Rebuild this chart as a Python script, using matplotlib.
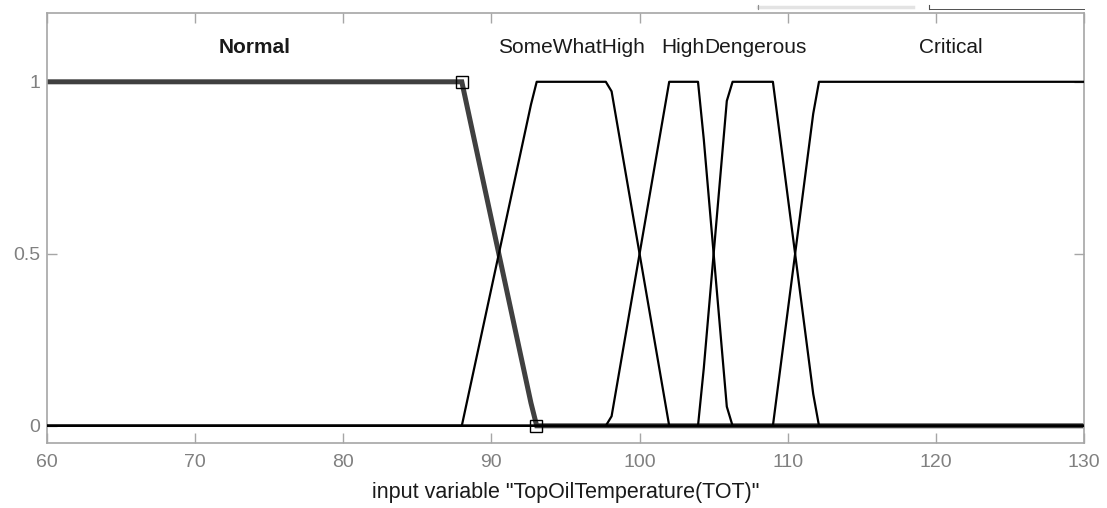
import numpy as np
import matplotlib
matplotlib.use("Agg")
import matplotlib.pyplot as plt
from matplotlib.lines import Line2D

# Membership functions (trapezoid parameters a, b, c, d)
mf_names = ["Normal", "SomeWhatHigh", "High", "Dengerous", "Critical"]
mf_params = [
    [50, 55, 88, 93],
    [88, 93, 98, 102],
    [98, 102, 104, 106],
    [104, 106, 109, 112],
    [109, 112, 130, 135],
]
label_x = [74, 95.4, 102.9, 107.8, 121]
label_y = 1.1
selected = 0
x_range = [60, 130]
n_points = 181
x_ticks = [60, 70, 80, 90, 100, 110, 120, 130]
y_ticks = [0, 0.5, 1]
y_ticklabels = ["0", "0.5", "1"]
x_label = 'input variable "TopOilTemperature(TOT)"'


def trapmf(x, p):
    a, b, c, d = p
    up = np.where(b > a, (x - a) / max(b - a, 1e-12), 1.0)
    down = np.where(d > c, (d - x) / max(d - c, 1e-12), 1.0)
    return np.clip(np.minimum(np.minimum(up, 1.0), down), 0, 1)


plt.rcParams['font.family'] = ['Liberation Sans', 'DejaVu Sans']

fig = plt.figure(figsize=(11.07, 5.08), dpi=100)
ax = fig.add_axes([47 / 1107, 1 - 443 / 508, (1084 - 47) / 1107, 430 / 508])

xs = np.linspace(x_range[0], x_range[1], n_points)

# selected MF first (thick, underneath)
ax.plot(xs, trapmf(xs, mf_params[selected]), color="#404040", lw=3.6,
        solid_joinstyle="miter", zorder=2)
for i, p in enumerate(mf_params):
    if i == selected:
        continue
    ax.plot(xs, trapmf(xs, p), color="black", lw=1.6, zorder=3)

# vertex markers of selected MF
sp = mf_params[selected]
ax.plot([sp[2], sp[3]], [1, 0], ls="none", marker="s", ms=9, mfc="none",
        mec="black", mew=1.0, zorder=5)

for i, (name, lx) in enumerate(zip(mf_names, label_x)):
    ax.text(lx, label_y, name, ha="center", va="center", fontsize=15,
            color="#1a1a1a", fontweight="bold" if i == selected else "normal")

ax.set_xlim(x_range)
ax.set_ylim(-0.05, 1.2)
ax.set_xticks(x_ticks)
ax.set_yticks(y_ticks)
ax.set_yticklabels(y_ticklabels)
ax.tick_params(direction="in", length=7, width=1, colors="#a6a6a6",
               labelcolor="#808080", labelsize=14, top=True, right=True, pad=8)
ax.tick_params(axis="y", pad=5)
for s in ax.spines.values():
    s.set_color("#a6a6a6")
    s.set_linewidth(1.2)
ax.set_xlabel(x_label, fontsize=15.5, color="#1a1a1a", labelpad=8)

# UI remnants above the axes (top right)
fig.add_artist(Line2D([758 / 1107, 913 / 1107], [1 - 7 / 508, 1 - 7 / 508],
                      color="#e3e3e3", lw=2.5))
fig.add_artist(Line2D([758 / 1107, 758 / 1107], [1 - 5 / 508, 1 - 9 / 508],
                      color="#909090", lw=0.8))
fig.add_artist(Line2D([929 / 1107, 1084 / 1107], [1 - 9 / 508, 1 - 9 / 508],
                      color="#505050", lw=0.7))
fig.add_artist(Line2D([929 / 1107, 929 / 1107], [1 - 5 / 508, 1 - 9 / 508],
                      color="#505050", lw=0.8))

fig.savefig("out.png", dpi=100)
